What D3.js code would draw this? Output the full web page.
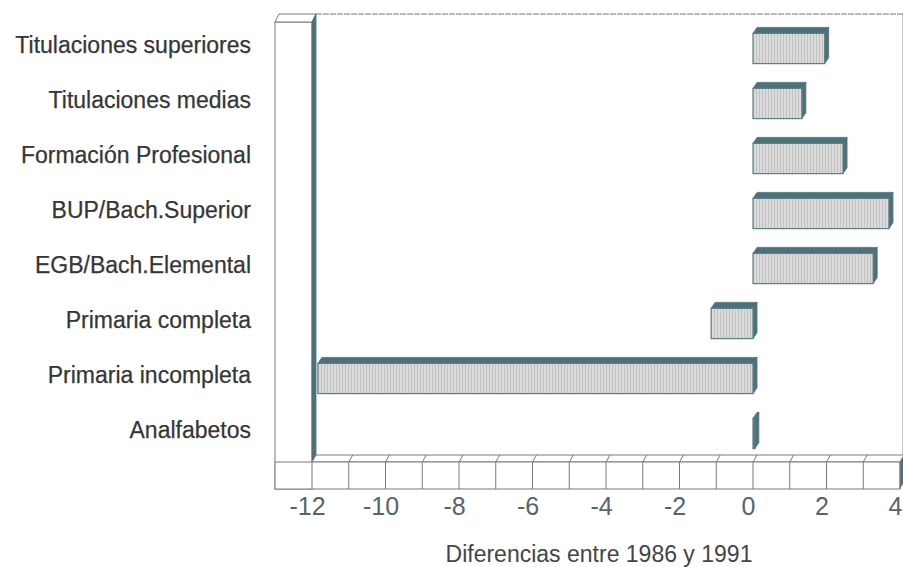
<!DOCTYPE html>
<html><head><meta charset="utf-8">
<script src="https://cdn.jsdelivr.net/npm/d3@7"></script>
<style>body{margin:0;background:#fff}svg{display:block}</style>
</head><body>
<svg id="c" width="903" height="567"></svg>
<script>
const categories = ["Titulaciones superiores","Titulaciones medias","Formación Profesional","BUP/Bach.Superior","EGB/Bach.Elemental","Primaria completa","Primaria incompleta","Analfabetos"];
const values = [1.95, 1.33, 2.45, 3.70, 3.27, -1.14, -11.84, 0.05];
const tickValues = [-12,-10,-8,-6,-4,-2,0,2,4];
const gridValues = d3.range(-12, 5, 1);
const axisTitle = "Diferencias entre 1986 y 1991";

const svg = d3.select("#c");
const x = d3.scaleLinear().domain([-12, 4]).range([312, 900]);
const y = d3.scaleBand().domain(categories).range([21, 461]).padding(0);

const dx = 4, dy = -7;           // chart depth
const bdx = 4, bdy = -6;         // bar depth
const floorTop = 462, floorBot = 489, wallLeft = 275, wallTop = 22;
const dark = "#4e7079", line = "#7a7a7a";
const font = "'Liberation Sans', Arial, sans-serif";

// pattern for hatched front faces
const defs = svg.append("defs");
const pat = defs.append("pattern").attr("id","hatch").attr("patternUnits","userSpaceOnUse").attr("width",3).attr("height",4);
pat.append("rect").attr("width",3).attr("height",4).attr("fill","#dadada");
pat.append("rect").attr("width",1).attr("height",4).attr("fill","#c2c2c2");

const g = svg.append("g");
const poly = pts => pts.map(p=>p.join(",")).join(" ");

// back plane outline
const x0 = x(-12), x1 = x(4);
g.append("line").attr("x1",x0+dx).attr("y1",wallTop+dy-1).attr("x2",x1+dx).attr("y2",wallTop+dy-1).attr("stroke",line).attr("stroke-width",1.2).attr("stroke-dasharray","6,1");
g.append("line").attr("x1",x1+dx-1).attr("y1",wallTop+dy-1).attr("x2",x1+dx-1).attr("y2",floorTop+dy).attr("stroke","#8a8a8a").attr("stroke-width",1);

// left wall front face
g.append("rect").attr("x",wallLeft).attr("y",wallTop).attr("width",x0-wallLeft).attr("height",floorBot-wallTop).attr("fill","#fff").attr("stroke",line).attr("stroke-width",1);
// wall top face
g.append("polygon").attr("points",poly([[wallLeft,wallTop],[x0,wallTop],[x0+dx,wallTop+dy-1],[wallLeft+dx,wallTop+dy-1]])).attr("fill","#fff").attr("stroke",line).attr("stroke-width",1);
// wall side face (dark)
g.append("polygon").attr("points",poly([[x0,wallTop],[x0+dx,wallTop+dy-1],[x0+dx,floorTop+dy],[x0,floorTop]])).attr("fill",dark).attr("stroke",dark).attr("stroke-width",0.8);

// floor top face
g.append("polygon").attr("points",poly([[x0,floorTop],[x1,floorTop],[x1+dx,floorTop+dy],[x0+dx,floorTop+dy]])).attr("fill","#fff").attr("stroke",line).attr("stroke-width",1);
// floor front face
g.append("rect").attr("x",wallLeft).attr("y",floorTop).attr("width",x1-wallLeft).attr("height",floorBot-floorTop).attr("fill","#fff").attr("stroke",line).attr("stroke-width",1);
// floor right side face
g.append("polygon").attr("points",poly([[x1,floorTop],[x1+dx,floorTop+dy],[x1+dx,floorBot+dy],[x1,floorBot]])).attr("fill",dark);
// floor grid
g.selectAll("line.gf").data(gridValues).join("line").attr("class","gf")
  .attr("x1",d=>x(d)).attr("x2",d=>x(d)).attr("y1",floorTop).attr("y2",floorBot).attr("stroke",line).attr("stroke-width",1);
g.selectAll("line.gt").data(gridValues.filter(d=>d>-12 && d<4)).join("line").attr("class","gt")
  .attr("x1",d=>x(d)).attr("x2",d=>x(d)+dx).attr("y1",floorTop).attr("y2",floorTop+dy).attr("stroke",line).attr("stroke-width",1);

// bars
const bh = y.bandwidth()*0.55;
const bars = g.selectAll("g.bar").data(categories.map((c,i)=>({c, v: values[i]}))).join("g").attr("class","bar");
bars.each(function(d){
  const s = d3.select(this);
  const yc = y(d.c) + y.bandwidth()/2;
  const ya = yc - bh/2, yb = yc + bh/2;
  const xa = x(Math.min(0,d.v)), xb = x(Math.max(0,d.v));
  s.append("polygon").attr("points",poly([[xa,ya],[xb,ya],[xb+bdx,ya+bdy],[xa+bdx,ya+bdy]])).attr("fill",dark).attr("stroke",dark).attr("stroke-width",0.8);
  s.append("polygon").attr("points",poly([[xb,ya],[xb+bdx,ya+bdy],[xb+bdx,yb+bdy],[xb,yb]])).attr("fill",dark).attr("stroke",dark).attr("stroke-width",0.8);
  s.append("rect").attr("x",xa).attr("y",ya).attr("width",Math.max(0.5,xb-xa)).attr("height",bh)
    .attr("fill", (xb-xa) > 3 ? "url(#hatch)" : dark).attr("stroke","#5d7c86").attr("stroke-width",1.2);
});

// category labels
svg.append("g").selectAll("text").data(categories).join("text")
  .attr("x",251).attr("y",d=>y(d)+y.bandwidth()/2-4).attr("dy","0.35em")
  .attr("text-anchor","end").attr("font-family",font).attr("font-size",23)
  .attr("fill","#363636").attr("stroke","#363636").attr("stroke-width",0.25).text(d=>d);

// x axis labels
const ax = svg.append("g").attr("transform",`translate(-5,${floorBot+1})`)
  .call(d3.axisBottom(x).tickValues(tickValues).tickSize(0).tickPadding(7).tickFormat(d=>d<0?"-"+Math.abs(d):String(d)));
ax.select(".domain").remove();
ax.selectAll("text").attr("font-family",font).attr("font-size",25).attr("fill","#56636d");

// axis title
svg.append("text").attr("x",599).attr("y",562).attr("text-anchor","middle")
  .attr("font-family",font).attr("font-size",23).attr("fill","#454545").text(axisTitle);
</script>
</body></html>
